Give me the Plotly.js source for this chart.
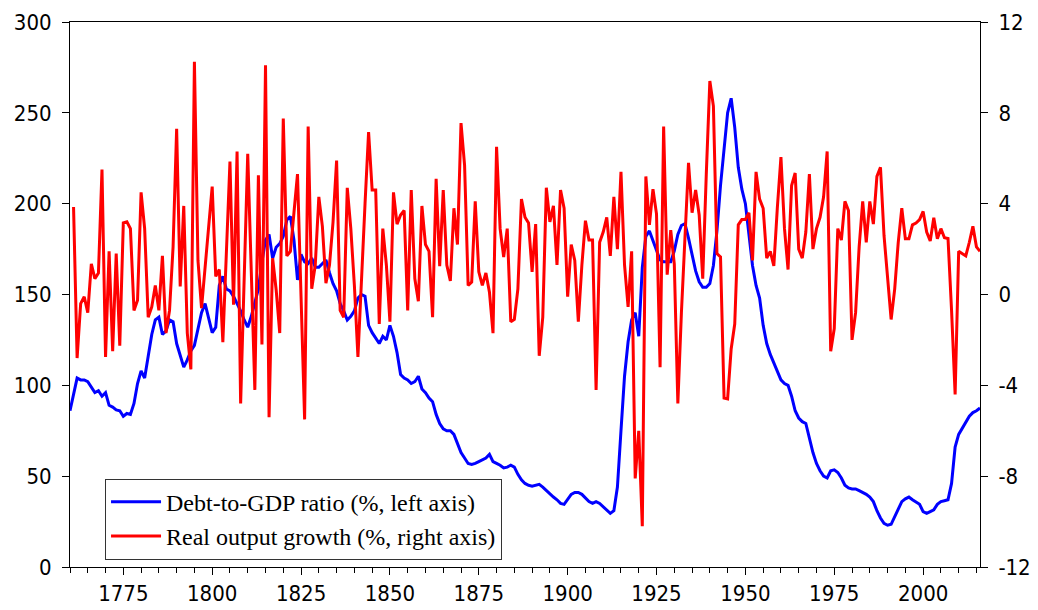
<!DOCTYPE html>
<html><head><meta charset="utf-8">
<script src="https://cdn.plot.ly/plotly-3.0.1.min.js"></script>
<style>html,body{margin:0;padding:0;background:#fff;} #chart{width:1038px;height:610px;}</style>
</head><body><div id="chart"></div>
<script>
const firstYear = 1760;
const debtRatio = [
 86, 96, 104, 103, 103, 102, 99, 96, 97, 94,
 96, 89, 88, 86.5, 86, 83, 84.5, 84, 90, 101,
 108, 104, 116, 128, 136, 137.5, 128, 130, 136, 135,
 123, 116, 110, 114, 119, 122, 131, 140, 145, 137,
 129, 132, 155, 160, 153, 152, 149, 145, 141, 136,
 132, 138, 146, 153, 168, 180, 183, 170, 176, 178,
 182, 191, 193, 180, 158, 172, 168, 167, 170, 165,
 165, 167, 169, 162, 156, 152, 145, 141, 136, 138,
 141, 148, 150, 149, 133, 129, 126, 123, 127, 125,
 133, 127, 118, 106, 104, 103, 101, 102, 105, 98,
 96, 93, 91, 84, 79, 76, 75, 75, 73, 68,
 63, 60, 57, 56.5, 57, 58, 59, 60, 62, 58,
 57, 56, 54.5, 55, 56, 55, 51, 48, 46, 45,
 44.5, 45, 45.5, 44, 42, 40, 38.5, 37, 35, 34.5,
 37, 40, 41, 41, 40, 38, 36, 35, 36, 35,
 33, 31, 29.5, 31, 44, 75, 105, 124, 136, 140,
 127, 165, 182, 185, 180, 174, 169, 168, 168, 168,
 174, 183, 188, 189, 181, 172, 163, 157, 154, 154,
 156, 166, 185, 210, 230, 250, 258, 242, 220, 208,
 200, 182, 166, 155, 148, 133, 123, 117, 112, 108,
 103, 101, 100, 94, 86, 82, 80, 79, 71, 63,
 57, 53, 50, 49, 53, 53.5, 52, 49, 45, 43.5,
 43, 43, 42, 41, 40, 38.5, 36, 31, 27, 24,
 23, 23.5, 27.5, 32, 36, 37.5, 38.5, 37, 35.5, 34.5,
 30.5, 29.5, 30.5, 31.5, 34.5, 36, 36.5, 37, 46, 66,
 73, 76.5, 80, 83, 85, 86, 87.5
];
const outputGrowth = [
 null, 3.85, -2.8, -0.4, -0.1, -0.8, 1.35, 0.7, 0.95, 5.5,
 -2.75, 1.9, -2.5, 1.8, -2.25, 3.15, 3.2, 2.9, -0.7, -0.25,
 4.5, 2.9, -1.0, -0.55, 0.4, -0.7, 1.7, -1.7, -0.7, 2.1,
 7.3, 0.35, 3.9, -1.7, -3.3, 10.25, 1.5, -0.6, 1.1, 2.8,
 4.75, 0.8, 1.1, -2.1, 1.8, 5.85, -0.45, 6.3, -4.8, 0.6,
 6.2, 1.0, -4.2, 5.25, -2.2, 10.1, -5.4, 1.6, 0.2, -1.7,
 7.75, 1.7, 1.9, 3.6, 5.3, -0.1, -5.5, 7.4, 0.25, 1.3,
 4.3, 3.0, 0.5, 1.3, 3.2, 5.9, -0.7, -1.0, 4.7, 2.9,
 0.4, -2.75, 1.0, 4.0, 7.15, 4.6, 4.6, -1.3, 2.9, 1.3,
 -1.2, 4.5, 3.1, 3.5, 3.7, -0.7, 4.6, 0.7, -0.3, 3.9,
 2.2, 1.9, -1.0, 5.1, 1.25, 4.6, 1.3, 0.6, 3.8, 2.2,
 7.55, 5.7, 0.4, 0.55, 4.1, 1.0, 0.4, 0.95, 0.1, -1.7,
 6.5, 2.9, 1.65, 2.9, -1.2, -1.1, 0.25, 4.2, 3.4, 3.15,
 1.0, 3.1, -2.7, -1.0, 4.7, 3.2, 3.9, 1.3, 4.6, 3.8,
 -0.1, 2.2, 1.5, -1.2, 1.3, 3.25, 2.4, 2.4, -4.2, 2.3,
 2.75, 3.4, 1.7, 4.3, 2.0, 5.4, 1.3, -0.55, 1.9, -8.1,
 -6.0, -10.2, 5.2, 3.07, 4.64, 3.54, -3.2, 7.4, 0.87, 2.83,
 1.34, -4.8, -0.8, 2.8, 5.8, 3.6, 4.6, 3.5, 0.7, 5.3,
 9.4, 8.3, 1.8, 1.65, -4.56, -4.6, -2.4, -1.3, 3.07, 3.3,
 3.3, 3.6, 1.5, 5.4, 4.2, 3.8, 1.6, 1.9, 1.26, 3.85,
 6.05, 2.9, 1.1, 4.8, 5.35, 2.0, 1.6, 2.75, 5.3, 2.0,
 2.9, 3.4, 4.3, 6.3, -2.5, -1.5, 2.9, 2.4, 4.1, 3.7,
 -2.0, -0.8, 2.1, 4.1, 2.3, 4.1, 3.1, 5.2, 5.6, 2.6,
 0.55, -1.1, 0.24, 2.3, 3.8, 2.45, 2.45, 3.07, 3.15, 3.3,
 3.66, 2.75, 2.36, 3.38, 2.45, 2.9, 2.5, 2.47, -0.7, -4.4,
 1.9, 1.8, 1.7, 2.3, 3.0, 2.1, 1.9
];
const years = debtRatio.map((_, i) => firstYear + i);
const xTickVals = [1775, 1800, 1825, 1850, 1875, 1900, 1925, 1950, 1975, 2000];
const leftTickVals = [0, 50, 100, 150, 200, 250, 300];
const rightTickVals = [-12, -8, -4, 0, 4, 8, 12];
const rightTickText = ['-12', '-8', '-4', '0', '4', '8', '12'];
const seriesNames = ['Debt-to-GDP ratio (%, left axis)', 'Real output growth (%, right axis)'];

const tickFont = {family: '"Liberation Sans Narrow", "Arial Narrow", "DejaVu Sans Condensed", sans-serif', size: 22, color: '#000'};

const traces = [
  {x: years, y: debtRatio, type: 'scatter', mode: 'lines', name: seriesNames[0],
   line: {color: '#0000ff', width: 3}, yaxis: 'y'},
  {x: years, y: outputGrowth, type: 'scatter', mode: 'lines', name: seriesNames[1],
   line: {color: '#ff0000', width: 3}, yaxis: 'y2', connectgaps: false}
];

const layout = {
  width: 1038, height: 610,
  margin: {l: 70, r: 58, t: 22, b: 43},
  paper_bgcolor: '#fff', plot_bgcolor: '#fff',
  showlegend: true,
  legend: {
    x: 0.0385, y: 0.162, xanchor: 'left', yanchor: 'top',
    bgcolor: '#fff', bordercolor: '#333', borderwidth: 1,
    font: {family: '"Liberation Serif", "Times New Roman", serif', size: 24, color: '#000'},
    itemwidth: 50, tracegroupgap: 0
  },
  xaxis: {
    range: [firstYear, 2016], tickvals: xTickVals, ticktext: xTickVals.map(String),
    ticks: 'outside', ticklen: 7, tickwidth: 1, tickcolor: '#000',
    minor: {dtick: 5, tick0: 1760, ticks: 'outside', ticklen: 5, tickcolor: '#000'},
    showline: true, linecolor: '#000', linewidth: 1, mirror: true,
    showgrid: false, zeroline: false, tickfont: tickFont
  },
  yaxis: {
    range: [0, 300], tickvals: leftTickVals,
    ticks: 'outside', ticklen: 7, tickcolor: '#000',
    showline: true, linecolor: '#000', linewidth: 1,
    showgrid: false, zeroline: false, tickfont: tickFont, ticklabelstandoff: 6
  },
  yaxis2: {
    range: [-12, 12], tickvals: rightTickVals, ticktext: rightTickText,
    overlaying: 'y', side: 'right',
    ticks: 'outside', ticklen: 7, tickcolor: '#000',
    showline: true, linecolor: '#000', linewidth: 1,
    showgrid: false, zeroline: false, tickfont: tickFont, ticklabelstandoff: 6
  }
};

Plotly.newPlot('chart', traces, layout, {displayModeBar: false, staticPlot: true});
</script>
</body></html>
